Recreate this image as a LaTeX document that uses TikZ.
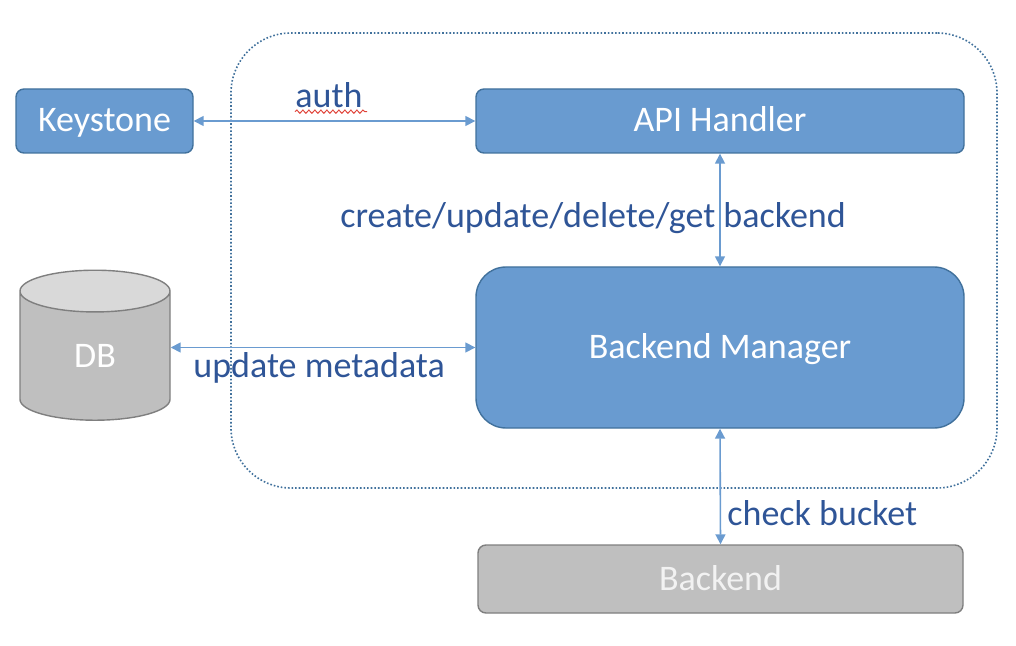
\documentclass[tikz,border=0pt]{standalone}
\usepackage{fontspec}
\setmainfont{Carlito}
\usetikzlibrary{arrows.meta, shapes.geometric, decorations.pathmorphing}
\definecolor{mgrblue}{HTML}{699BD0}
\definecolor{mgredge}{HTML}{41719C}
\definecolor{mgrlink}{HTML}{6A9BD0}
\definecolor{mgrtext}{HTML}{2F5597}
\definecolor{mgrgrey}{HTML}{BFBFBF}
\definecolor{mgrgreyedge}{HTML}{7F7F7F}
\definecolor{mgrtop}{HTML}{D9D9D9}
\definecolor{mgrred}{HTML}{E0443A}
\tikzset{
  >={Triangle[length=5pt, width=5pt]},
  box/.style={rectangle, rounded corners=4pt, draw=mgredge, fill=mgrblue, line width=0.7pt,
              align=center, inner sep=0pt, text height=11pt, text depth=0pt,
              text=white, font=\fontsize{18}{20}\selectfont},
  boxk/.style={box, draw=mgrgreyedge, fill=mgrgrey, text=white!95!black},
  frame/.style={rectangle, rounded corners=30pt, draw=mgredge, densely dotted, line width=0.8pt},
  link/.style={<->, line width=0.8pt, draw=mgrlink},
  lbl/.style={font=\fontsize{18}{20}\selectfont, text=mgrtext, inner sep=0pt},
}
\begin{document}
\begin{tikzpicture}[x=0.5pt, y=-0.5pt]
  \useasboundingbox (0,0) rectangle (1016,646);
  % service boundary
  \node[frame, minimum width=383pt, minimum height=227.5pt] (svc) at (614,260.5) {};
  % components
  \node[box, minimum width=88.5pt, minimum height=32pt] (keystone) at (104.5,121) {Keystone};
  \node[box, minimum width=244pt, minimum height=32pt] (api) at (720,121) {API Handler};
  \node[box, rounded corners=15pt, minimum width=244pt, minimum height=80.5pt] (mgr) at (720,347.5) {Backend Manager};
  \node[boxk, minimum width=242.5pt, minimum height=34pt] (backend) at (720.5,579) {Backend};
  \node[cylinder, shape border rotate=90, aspect=1, draw=mgrgreyedge, line width=0.7pt,
        cylinder uses custom fill, cylinder body fill=mgrgrey, cylinder end fill=mgrtop,
        minimum width=75pt, minimum height=75pt, inner sep=0pt, text=white,
        font=\fontsize{18}{20}\selectfont] (db) at (95,356) {DB};
  % connectors
  \draw[link] (keystone.east) -- (api.west);
  \draw[link] (api.south) -- (mgr.north);
  \draw[link] (db.east |- mgr.west) -- (mgr.west);
  \draw[link] (mgr.south) -- (backend.north);
  % labels
  \node[lbl, anchor=base west] (lauth) at (295,108) {auth};
  \draw[mgrred, line width=0.5pt, decorate, decoration={snake, segment length=3pt, amplitude=0.8pt}]
    (lauth.south west) ++(0,3) -- ++(72,0);
  \node[lbl, anchor=base west] (lcrud) at (340,227.5) {create/update/delete/get backend};
  \node[lbl, anchor=base west] (lmeta) at (193,377) {update metadata};
  \node[lbl, anchor=base west] (lcheck) at (727,525) {check bucket};
\end{tikzpicture}
\end{document}
